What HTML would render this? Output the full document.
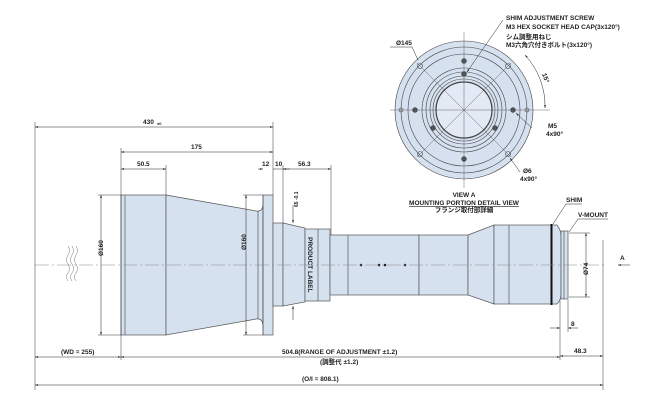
<!DOCTYPE html>
<html><head><meta charset="utf-8"><style>
html,body{margin:0;padding:0;background:#fff;width:670px;height:400px;overflow:hidden}
svg{display:block}
text{font-family:"Liberation Sans","Noto Sans CJK JP",sans-serif;font-weight:bold;font-size:6.5px;fill:#222}
</style></head><body>
<svg width="670" height="400" viewBox="0 0 670 400" xmlns="http://www.w3.org/2000/svg">
<defs>
<marker id="a" viewBox="0 0 10 6" refX="10" refY="3" markerWidth="6" markerHeight="3.6" orient="auto-start-reverse"><path d="M0,0L10,3L0,6z" fill="#222"/></marker>
</defs>
<g fill="#d6e1f0" stroke="#555" stroke-width="0.7">
<rect x="121" y="195" width="45" height="140"/>
<line x1="125" y1="195" x2="125" y2="335"/>
<polygon points="166,195 262,212 262,318 166,335"/>
<path d="M258,211 q5,0 5,-8 L263,327 q0,-8 -5,-8z"/>
<rect x="263" y="195" width="10" height="140"/>
<rect x="273" y="223" width="10" height="83"/>
<polygon points="283,223 305,228 305,302 283,306"/>
<rect x="305" y="229" width="25" height="72"/>
<line x1="318" y1="229" x2="318" y2="301"/>
<rect x="330" y="235" width="89" height="60"/>
<line x1="348" y1="235" x2="348" y2="295"/>
<rect x="419" y="235" width="49" height="60"/>
<polygon points="468,235 494,225 494,304 468,295"/>
<rect x="494" y="225" width="57" height="79"/>
<line x1="509" y1="225" x2="509" y2="304"/>
<path d="M552,225 L557,225 Q561,230 561,236 L561,294 Q561,300 557,304 L552,304z"/>
<rect x="561" y="231" width="7" height="68"/>
<line x1="564" y1="231" x2="564" y2="299"/>
</g>
<line x1="551.5" y1="224" x2="551.5" y2="305" stroke="#111" stroke-width="2"/>
<line x1="263" y1="195" x2="263" y2="335" stroke="#555" stroke-width="0.7"/>
<g fill="#222"><circle cx="361" cy="265" r="1.3"/><circle cx="379" cy="265" r="1.3"/><circle cx="385" cy="265" r="1.3"/><circle cx="405" cy="265" r="1.3"/></g>
<line x1="35" y1="265" x2="605" y2="265" stroke="#888" stroke-width="0.6" stroke-dasharray="14,3,2,3"/>
<g fill="none" stroke="#777" stroke-width="0.5">
<path d="M68,246 q3,5 0,9 q-3,5 0,9 q3,5 0,9 q-3,4 0,8"/>
<path d="M72,246 q3,5 0,9 q-3,5 0,9 q3,5 0,9 q-3,4 0,8"/>
<path d="M76,246 q3,5 0,9 q-3,5 0,9 q3,5 0,9 q-3,4 0,8"/>
</g>
<g stroke="#333" stroke-width="0.5" fill="none">
<line x1="35" y1="122" x2="35" y2="390"/>
<line x1="273" y1="122" x2="273" y2="195"/>
<line x1="121" y1="148" x2="121" y2="360"/>
<line x1="166" y1="165" x2="166" y2="195"/>
<line x1="283" y1="165" x2="283" y2="223"/>
<line x1="331" y1="165" x2="331" y2="235"/>
<line x1="603" y1="240" x2="603" y2="390"/>
<line x1="560" y1="300" x2="560" y2="360"/>
<line x1="568" y1="300" x2="568" y2="332"/>
<line x1="98" y1="195" x2="121" y2="195"/><line x1="98" y1="335" x2="121" y2="335"/>
<line x1="243" y1="195" x2="263" y2="195"/><line x1="243" y1="335" x2="263" y2="335"/>
<line x1="569" y1="233" x2="590" y2="233"/><line x1="569" y1="297" x2="590" y2="297"/>
</g>
<g stroke="#222" stroke-width="0.5" fill="none" marker-start="url(#a)" marker-end="url(#a)">
<line x1="35" y1="127" x2="273" y2="127"/>
<line x1="121" y1="152" x2="273" y2="152"/>
<line x1="121" y1="169" x2="166" y2="169"/>
<line x1="283" y1="169" x2="331" y2="169"/>
<line x1="101" y1="195" x2="101" y2="335"/>
<line x1="246" y1="195" x2="246" y2="335"/>
<line x1="586" y1="233" x2="586" y2="297"/>
<line x1="560" y1="356" x2="603" y2="356"/>
<line x1="35" y1="357" x2="121" y2="357"/>
<line x1="121" y1="357" x2="560" y2="357"/>
<line x1="35" y1="385" x2="603" y2="385"/>
</g>
<g stroke="#222" stroke-width="0.5" fill="none">
<line x1="258" y1="169" x2="263" y2="169" marker-end="url(#a)"/>
<line x1="273" y1="169" x2="290" y2="169"/>
<line x1="550" y1="328" x2="560" y2="328" marker-end="url(#a)"/>
<line x1="578" y1="328" x2="568" y2="328" marker-end="url(#a)"/>
<line x1="293" y1="205" x2="293" y2="223" marker-end="url(#a)"/>
<line x1="293" y1="320" x2="293" y2="306" marker-end="url(#a)"/>
<line x1="630" y1="265" x2="618" y2="265" marker-end="url(#a)"/>
<line x1="566" y1="204" x2="553" y2="224"/><line x1="566" y1="204" x2="582" y2="204"/>
<line x1="578" y1="219" x2="569" y2="232"/><line x1="578" y1="219" x2="608" y2="219"/>
</g>
<text x="143" y="124">430</text><text x="157" y="125" style="font-size:4px">±0</text>
<text x="191" y="149">175</text>
<text x="137" y="166">50.5</text>
<text x="262" y="166">12</text><text x="275" y="166">10</text>
<text x="298" y="166">56.3</text>
<text transform="translate(103,256) rotate(-90)">Ø160</text>
<text transform="translate(246,250) rotate(-90)">Ø160</text>
<text transform="translate(298,207) rotate(-90)" style="font-size:5px">65 -0.1</text>
<text transform="translate(308,237) rotate(90)" style="font-size:6.5px">PRODUCT LABEL</text>
<text transform="translate(588,275) rotate(-90)">Ø74</text>
<text x="571" y="326">8</text>
<text x="574" y="353">48.3</text>
<text x="620" y="260">A</text>
<text x="566" y="202">SHIM</text>
<text x="578" y="217">V-MOUNT</text>
<text x="61" y="354">(WD = 255)</text>
<text x="282" y="354">504.8(RANGE OF ADJUSTMENT ±1.2)</text>
<text x="320" y="364">(調整代 ±1.2)</text>
<text x="302" y="381">(O/I = 808.1)</text>
<text x="464" y="197" text-anchor="middle">VIEW A</text>
<text x="464" y="205" text-anchor="middle" text-decoration="underline">MOUNTING PORTION DETAIL VIEW</text>
<text x="464" y="212" text-anchor="middle">フランジ取付部詳細</text>
<g stroke="#444" stroke-width="0.6" fill="none">
<circle cx="464" cy="110" r="69" fill="#d6e1f0"/>
<circle cx="464" cy="110" r="63"/>
<circle cx="464" cy="110" r="56"/>
<circle cx="464" cy="110" r="42"/>
<circle cx="464" cy="110" r="38"/>
<circle cx="464" cy="110" r="34"/>
<circle cx="464" cy="110" r="31"/>
<circle cx="464" cy="110" r="28" fill="#e3eaf5" stroke-width="1.3"/>
<line x1="464" y1="32" x2="464" y2="188" stroke-width="0.4"/>
<line x1="390" y1="110" x2="550" y2="110" stroke-width="0.4"/>
<line x1="417" y1="63" x2="511" y2="157" stroke-width="0.4"/>
<line x1="511" y1="63" x2="417" y2="157" stroke-width="0.4"/>
<circle cx="420" cy="66" r="2.5"/><circle cx="508" cy="66" r="2.5"/><circle cx="420" cy="154" r="2.5"/><circle cx="508" cy="154" r="2.5"/>
<circle cx="401" cy="110" r="2"/><circle cx="527" cy="110" r="2"/>
</g>
<g fill="#555" stroke="#222" stroke-width="0.5">
<circle cx="415" cy="110" r="2.4"/><circle cx="513" cy="110" r="2.4"/><circle cx="464" cy="61" r="2.4"/><circle cx="464" cy="159" r="2.4"/>
<circle cx="464" cy="74" r="2.4"/><circle cx="433" cy="128" r="2.4"/><circle cx="495" cy="128" r="2.4"/>
</g>
<g stroke="#222" stroke-width="0.5" fill="none">
<path d="M525,55 A75,75 0 0 1 545,108" marker-start="url(#a)" marker-end="url(#a)"/>
<line x1="503" y1="20" x2="467" y2="72" marker-end="url(#a)"/>
<line x1="390" y1="47" x2="412" y2="47"/><line x1="412" y1="47" x2="418" y2="60"/>
<line x1="532" y1="128" x2="516" y2="113" marker-end="url(#a)"/>
<line x1="520" y1="172" x2="510" y2="158" marker-end="url(#a)"/>
</g>
<text x="506" y="20">SHIM ADJUSTMENT SCREW</text>
<text x="506" y="29">M3 HEX SOCKET HEAD CAP(3x120°)</text>
<text x="506" y="39">シム調整用ねじ</text>
<text x="506" y="47">M3六角穴付きボルト(3x120°)</text>
<text x="396" y="45">Ø145</text>
<text transform="translate(542,74) rotate(70)">15°</text>
<text x="548" y="128">M5</text><text x="546" y="136">4x90°</text>
<text x="523" y="173">Ø6</text><text x="520" y="181">4x90°</text>
</svg>
</body></html>
